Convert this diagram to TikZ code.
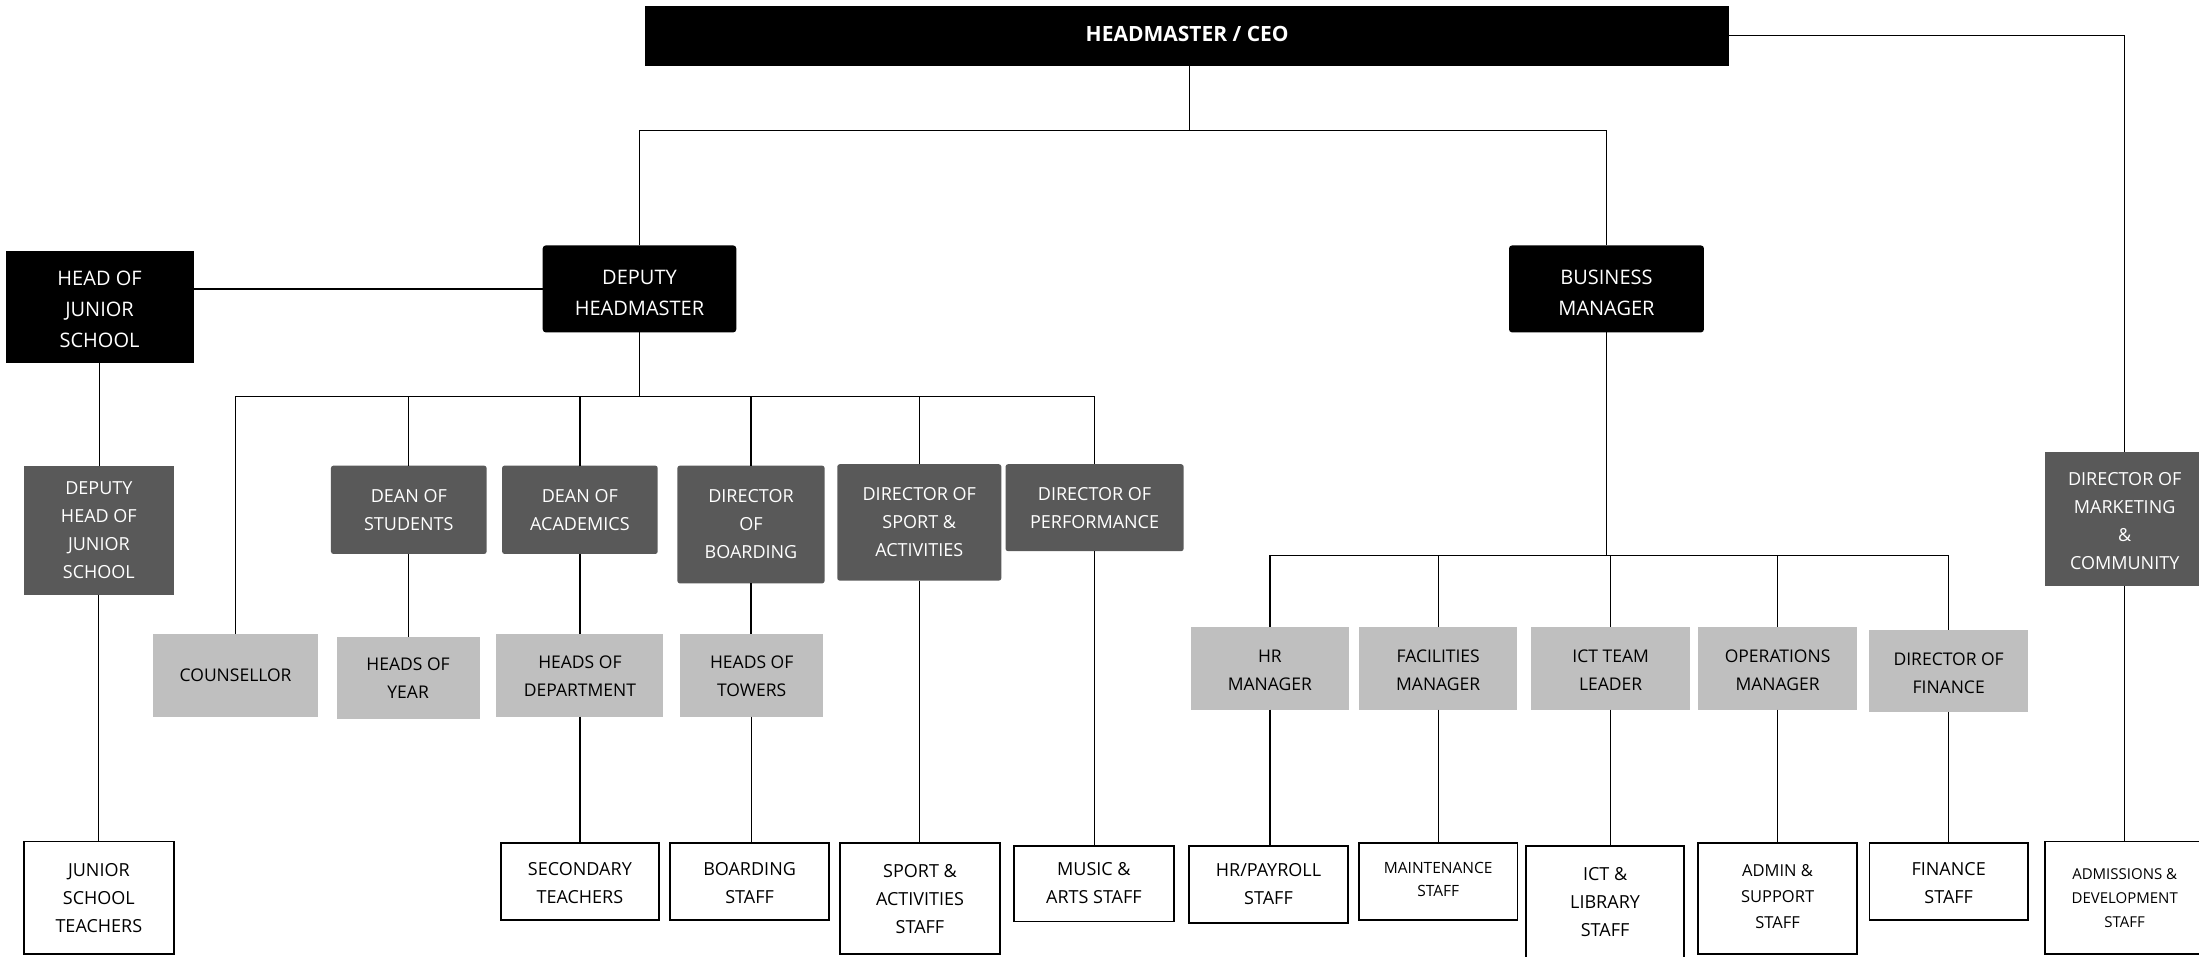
\documentclass[tikz,border=0pt]{standalone}
\usepackage{fontspec}
\setmainfont{Open Sans}
\usetikzlibrary{fit}
\definecolor{dkgray}{HTML}{595959}
\definecolor{ltgray}{HTML}{BFBFBF}
\tikzset{
  basebox/.style={inner sep=0pt, outer sep=0pt},
  blackbox/.style={basebox, fill=black},
  blackround/.style={blackbox, rounded corners=3pt},
  darkbox/.style={basebox, fill=dkgray},
  darkround/.style={darkbox, rounded corners=2.5pt},
  lightbox/.style={basebox, fill=ltgray},
  whitebox/.style={basebox, draw=black, line width=1.8pt, fill=white},
  basetext/.style={inner sep=0pt, align=center},
  whitetext/.style={basetext, text=white, font=\fontsize{20}{31}\selectfont},
  greytext/.style={basetext, text=white, font=\fontsize{18}{28}\selectfont},
  lighttext/.style={basetext, text=black, font=\fontsize{17.5}{28}\selectfont},
  stafftext/.style={basetext, text=black, font=\fontsize{18}{28}\selectfont},
  conn/.style={draw=black, line width=1.2pt},
}
% #1 extra text options, #2 box style, #3 text style, #4 fit points, #5 name, #6 text
\newcommand\orgbox[6][]{%
  \node[#2, fit={#4}] (#5) {};
  \node[#3, #1] (#5-t) at (#5.center) {#6};}
\begin{document}
\begin{tikzpicture}[x=1.4024pt, y=-1.4024pt]
\useasboundingbox (0,0) rectangle (1568,682);
% top level
\orgbox[font=\fontsize{21}{26}\selectfont\bfseries, yshift=2pt]{blackbox}{whitetext}{(460,4) (1233,47)}{ceo}{HEADMASTER / CEO}
\orgbox[yshift=-2pt]{blackbox}{whitetext}{(4,179) (138,259)}{hjs}{HEAD OF\\JUNIOR\\SCHOOL}
\orgbox[yshift=-4pt]{blackround}{whitetext}{(387,175) (525,237)}{dep}{DEPUTY\\HEADMASTER}
\orgbox[yshift=-4pt]{blackround}{whitetext}{(1076,175) (1215,237)}{bm}{BUSINESS\\MANAGER}
% dark gray
\orgbox{darkbox}{greytext}{(17,332) (124,424)}{dhjs}{DEPUTY\\HEAD OF\\JUNIOR\\SCHOOL}
\orgbox{darkround}{greytext}{(236,332) (347,395)}{dst}{DEAN OF\\STUDENTS}
\orgbox{darkround}{greytext}{(358,332) (469,395)}{aca}{DEAN OF\\ACADEMICS}
\orgbox{darkround}{greytext}{(483,332) (588,416)}{brd}{DIRECTOR\\OF\\BOARDING}
\orgbox{darkround}{greytext}{(597,331) (714,414)}{spt}{DIRECTOR OF\\SPORT \&\\ACTIVITIES}
\orgbox{darkround}{greytext}{(717,331) (844,393)}{per}{DIRECTOR OF\\PERFORMANCE}
\orgbox[yshift=-2pt]{darkbox}{greytext}{(1458,322) (1572,418)}{mkt}{DIRECTOR OF\\MARKETING\\\&\\COMMUNITY}
% light gray
\orgbox{lightbox}{lighttext}{(109,452) (227,511)}{cou}{COUNSELLOR}
\orgbox{lightbox}{lighttext}{(240,454) (342,513)}{hoy}{HEADS OF\\YEAR}
\orgbox[yshift=-1pt]{lightbox}{lighttext}{(354,452) (473,511)}{hod}{HEADS OF\\DEPARTMENT}
\orgbox[yshift=-1pt]{lightbox}{lighttext}{(485,452) (587,511)}{tow}{HEADS OF\\TOWERS}
\orgbox[yshift=-2pt]{lightbox}{lighttext}{(849,447) (962,506)}{hrm}{HR\\MANAGER}
\orgbox[yshift=-2pt]{lightbox}{lighttext}{(969,447) (1082,506)}{fac}{FACILITIES\\MANAGER}
\orgbox[yshift=-2pt]{lightbox}{lighttext}{(1092,447) (1205,506)}{ict}{ICT TEAM\\LEADER}
\orgbox[yshift=-2pt]{lightbox}{lighttext}{(1211,447) (1324,506)}{ops}{OPERATIONS\\MANAGER}
\orgbox[yshift=-2pt]{lightbox}{lighttext}{(1333,449) (1446,508)}{fin}{DIRECTOR OF\\FINANCE}
% white staff boxes
\orgbox{whitebox}{stafftext}{(17,600) (124,680.5)}{jst}{JUNIOR\\SCHOOL\\TEACHERS}
\orgbox[yshift=-2pt]{whitebox}{stafftext}{(357,601) (470,656)}{sec}{SECONDARY\\TEACHERS}
\orgbox[yshift=-2pt]{whitebox}{stafftext}{(478,601) (591,656)}{bst}{BOARDING\\STAFF}
\orgbox{whitebox}{stafftext}{(599,601) (713,680.5)}{sps}{SPORT \&\\ACTIVITIES\\STAFF}
\orgbox{whitebox}{stafftext}{(723,603) (837,657)}{mus}{MUSIC \&\\ARTS STAFF}
\orgbox{whitebox}{stafftext}{(848,603) (961,658)}{hrs}{HR/PAYROLL\\STAFF}
\orgbox[font=\fontsize{15.5}{23}\selectfont, yshift=2pt]{whitebox}{stafftext}{(969,601) (1082,656)}{mnt}{MAINTENANCE\\STAFF}
\orgbox{whitebox}{stafftext}{(1088,603) (1201,683)}{ils}{ICT \&\\LIBRARY\\STAFF}
\orgbox[font=\fontsize{16.5}{26}\selectfont, yshift=2pt]{whitebox}{stafftext}{(1211,601) (1324,680.5)}{adm}{ADMIN \&\\SUPPORT\\STAFF}
\orgbox[yshift=-2pt]{whitebox}{stafftext}{(1333,601) (1446,656)}{fst}{FINANCE\\STAFF}
\orgbox[font=\fontsize{15}{24}\selectfont]{whitebox}{stafftext}{(1458,600) (1572,680.5)}{ads}{ADMISSIONS \&\\DEVELOPMENT\\STAFF}
% connectors: top
\coordinate (t1) at (848,93);
\draw[conn] (ceo.south -| t1) -- (t1);
\draw[conn] (dep.north) |- (t1) -| (bm.north);
\draw[conn] (ceo.east) -| (mkt.north);
\draw[conn] (mkt.south) -- (mkt.south |- ads.north);
% junior school
\draw[conn] (dep.west) -- (dep.west -| hjs.east);
\draw[conn] (hjs.south) -- (hjs.south |- dhjs.north);
\draw[conn] (dhjs.south) -- (dhjs.south |- jst.north);
% deputy branch
\coordinate (t2) at (455,283);
\draw[conn] (dep.south) -- (dep.south |- t2);
\draw[conn] (cou.north) |- (t2) -| (per.north);
\foreach \n in {dst,aca,brd,spt} {\draw[conn] (\n.north) -- (\n.north |- t2);}
\draw[conn] (dst.south) -- (dst.south |- hoy.north);
\draw[conn] (aca.south) -- (aca.south |- hod.north);
\draw[conn] (hod.south) -- (hod.south |- sec.north);
\draw[conn] (brd.south) -- (brd.south |- tow.north);
\draw[conn] (tow.south) -- (tow.south |- bst.north);
\draw[conn] (spt.south) -- (spt.south |- sps.north);
\draw[conn] (per.south) -- (per.south |- mus.north);
% business branch
\coordinate (t3) at (1147,396);
\draw[conn] (bm.south) -- (bm.south |- t3);
\draw[conn] (hrm.north) |- (t3) -| (fin.north);
\foreach \n in {fac,ict,ops} {\draw[conn] (\n.north) -- (\n.north |- t3);}
\draw[conn] (hrm.south) -- (hrm.south |- hrs.north);
\draw[conn] (fac.south) -- (fac.south |- mnt.north);
\draw[conn] (ict.south) -- (ict.south |- ils.north);
\draw[conn] (ops.south) -- (ops.south |- adm.north);
\draw[conn] (fin.south) -- (fin.south |- fst.north);
\end{tikzpicture}
\end{document}
